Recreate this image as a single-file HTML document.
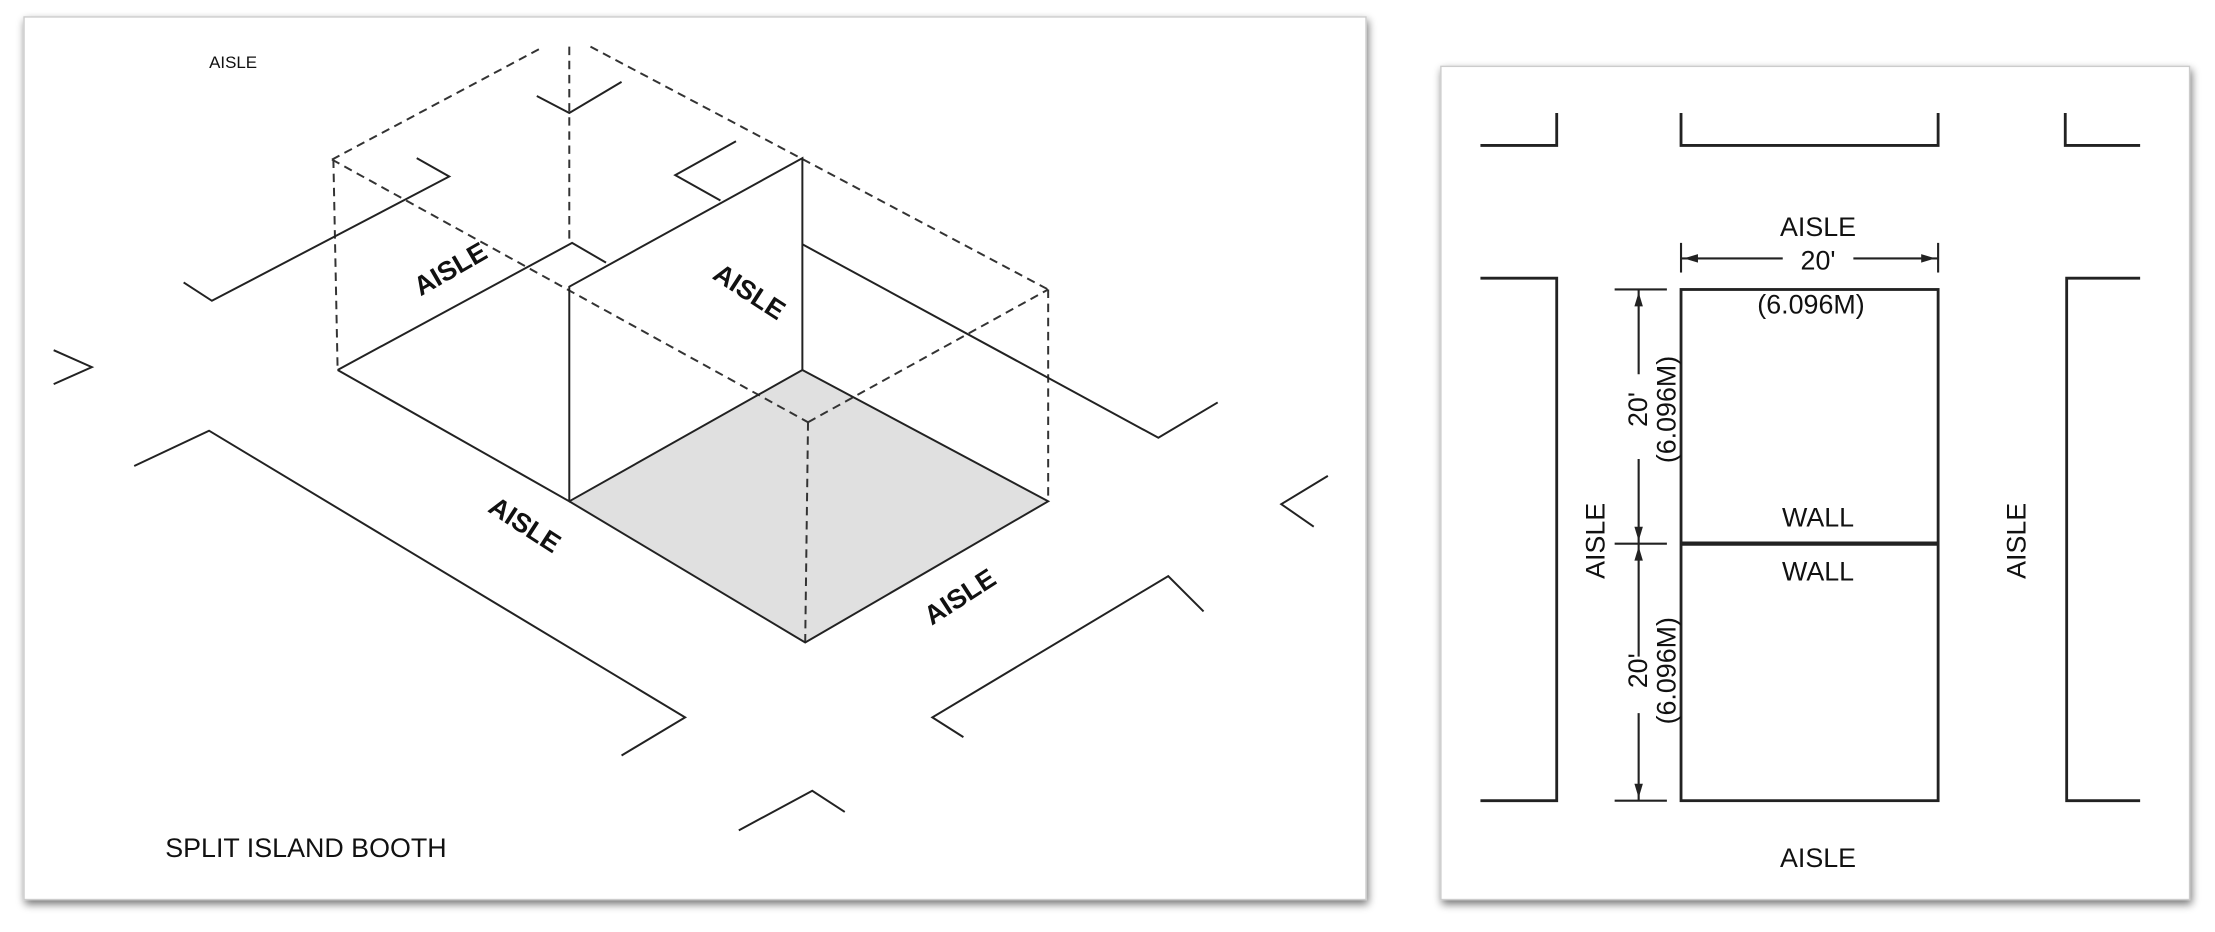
<!DOCTYPE html>
<html><head><meta charset="utf-8"><style>
html,body{margin:0;padding:0;background:#fff;}
svg{display:block;}
text{font-family:"Liberation Sans",Arial,sans-serif;fill:#111;}
</style></head><body>
<svg width="2215" height="932" viewBox="0 0 1568 660" preserveAspectRatio="none" xmlns="http://www.w3.org/2000/svg">
<defs>
<filter id="sh" x="-5%" y="-5%" width="110%" height="110%">
<feGaussianBlur in="SourceAlpha" stdDeviation="3"/>
<feOffset dx="1" dy="3"/>
<feComponentTransfer><feFuncA type="linear" slope="0.55"/></feComponentTransfer>
<feMerge><feMergeNode/><feMergeNode in="SourceGraphic"/></feMerge>
</filter>
</defs>
<rect width="1568" height="660" fill="#fff"/>
<rect x="17" y="12" width="950" height="625" fill="#fff" stroke="#ccc" stroke-width="1" filter="url(#sh)"/>
<rect x="1020" y="47" width="530" height="590" fill="#fff" stroke="#ccc" stroke-width="1" filter="url(#sh)"/>

<!-- LEFT DIAGRAM -->
<g fill="none" stroke="#222" stroke-width="1.4">
<polygon points="403,355 568,262 742,355 570,455" fill="#e0e0e0" stroke="none"/>
<!-- dashed box -->
<g stroke-dasharray="6,4" stroke="#333">
<line x1="235" y1="113" x2="385" y2="33"/>
<line x1="418" y1="33" x2="742" y2="205"/>
<line x1="403" y1="33" x2="403" y2="172"/>
<line x1="235" y1="113" x2="572" y2="299"/>
<line x1="572" y1="299" x2="742" y2="205"/>
<line x1="236" y1="113" x2="239" y2="262"/>
<line x1="742" y1="205" x2="742" y2="355"/>
<line x1="572" y1="299" x2="570" y2="455"/>
</g>
<!-- solid -->
<polyline points="239,262 405,172 429,186"/>
<polyline points="239,262 403,355 403,203 568,112 568,262"/>
<polyline points="403,355 570,455 742,355 568,262 403,355"/>
<polyline points="521,100 478,124 510,142"/>
<polyline points="568,173 820,310 862,285"/>
<polyline points="295,112 318,125 150,213 130,200"/>
<polyline points="380,68 403,80 440,58"/>
<polyline points="38,248 65,260 38,272"/>
<polyline points="940,337 907,357 930,373"/>
<polyline points="95,330 148,305 485,508 440,535"/>
<polyline points="852,433 827,408 660,508 682,522"/>
<polyline points="523,588 575,560 598,575"/>
</g>
<text x="148" y="48" font-size="12">AISLE</text>
<text x="117" y="607" font-size="19">SPLIT ISLAND BOOTH</text>
<g font-size="19" font-weight="bold" text-anchor="middle">
<text transform="translate(322,196) rotate(-30)">AISLE</text>
<text transform="translate(527,212) rotate(33)">AISLE</text>
<text transform="translate(368,377) rotate(33)">AISLE</text>
<text transform="translate(683,428) rotate(-33)">AISLE</text>
</g>

<!-- RIGHT DIAGRAM -->
<g fill="none" stroke="#222" stroke-width="2">
<polyline points="1048,103 1102,103 1102,80"/>
<polyline points="1190,80 1190,103 1372,103 1372,80"/>
<polyline points="1462,80 1462,103 1515,103"/>
<polyline points="1048,197 1102,197 1102,567 1048,567"/>
<polyline points="1515,197 1463,197 1463,567 1515,567"/>
<rect x="1190" y="205" width="182" height="362"/>
<line x1="1190" y1="385" x2="1372" y2="385" stroke-width="3"/>
<!-- horizontal dim -->
<line x1="1190" y1="172" x2="1190" y2="193" stroke-width="1.5"/>
<line x1="1372" y1="172" x2="1372" y2="193" stroke-width="1.5"/>
<line x1="1190" y1="183" x2="1262" y2="183" stroke-width="1.5"/>
<line x1="1312" y1="183" x2="1372" y2="183" stroke-width="1.5"/>
<!-- vertical dim -->
<line x1="1143" y1="205" x2="1180" y2="205" stroke-width="1.5"/>
<line x1="1143" y1="385" x2="1180" y2="385" stroke-width="1.5"/>
<line x1="1143" y1="567" x2="1180" y2="567" stroke-width="1.5"/>
<line x1="1160" y1="205" x2="1160" y2="265" stroke-width="1.5"/>
<line x1="1160" y1="325" x2="1160" y2="465" stroke-width="1.5"/>
<line x1="1160" y1="505" x2="1160" y2="567" stroke-width="1.5"/>
</g>
<g fill="#222">
<polygon points="1192,183 1202,180 1202,186"/>
<polygon points="1370,183 1360,180 1360,186"/>
<polygon points="1160,207 1157,217 1163,217"/>
<polygon points="1160,383 1157,373 1163,373"/>
<polygon points="1160,387 1157,397 1163,397"/>
<polygon points="1160,565 1157,555 1163,555"/>
</g>
<g font-size="19" text-anchor="middle">
<text x="1287" y="167">AISLE</text>
<text x="1287" y="191">20'</text>
<text x="1282" y="222">(6.096M)</text>
<text x="1287" y="373">WALL</text>
<text x="1287" y="411">WALL</text>
<text x="1287" y="614">AISLE</text>
<text transform="translate(1136,383) rotate(-90)">AISLE</text>
<text transform="translate(1434,383) rotate(-90)">AISLE</text>
<text transform="translate(1166,290) rotate(-90)">20'</text>
<text transform="translate(1186,290) rotate(-90)">(6.096M)</text>
<text transform="translate(1166,475) rotate(-90)">20'</text>
<text transform="translate(1186,475) rotate(-90)">(6.096M)</text>
</g>
</svg>
</body></html>
